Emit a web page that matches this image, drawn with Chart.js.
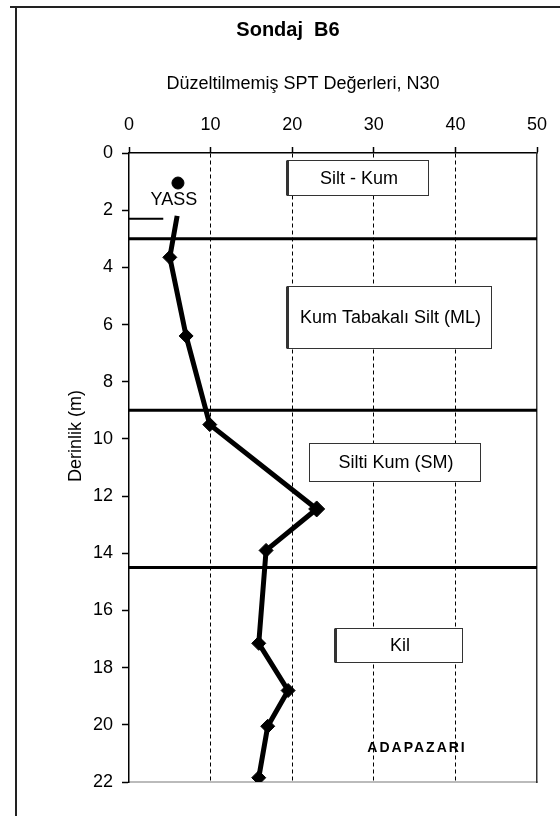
<!DOCTYPE html>
<html lang="tr">
<head>
<meta charset="utf-8">
<title>Sondaj B6</title>
<script src="https://cdn.jsdelivr.net/npm/chart.js@4/dist/chart.umd.min.js"></script>
<style>
  html, body { margin: 0; padding: 0; background: #fff; }
  canvas { display: block; }
</style>
</head>
<body>
<canvas id="c" width="560" height="816"></canvas>
<script>
// SPT readings, borehole B6
const depthM = [2.2, 3.65, 6.4, 9.5, 12.45, 13.9, 17.15, 18.8, 20.05, 21.85];
const n30    = [5.9, 5.0, 7.0, 9.9, 23.0, 16.8, 15.9, 19.5, 17.0, 15.9];
const topDepthM = [1.05];
const topN30    = [6.0];

// layer boundaries and groundwater level (m)
const layerBoundaries = [3, 9, 14.5];
const groundwaterDepth = 2.3;

// soil descriptions
const layerNames = ['Silt - Kum', 'Kum Tabakalı Silt (ML)', 'Silti Kum (SM)', 'Kil'];

const FONT = '"Liberation Sans", Arial, sans-serif';

// label boxes in axis units (N30 from/to, depth from/to)
const layerBoxes = [
  { x0: 19.4, x1: 36.6, y0: 0.25, y1: 1.47, thickLeft: true },
  { x0: 19.4, x1: 44.4, y0: 4.65, y1: 6.82, thickLeft: true },
  { x0: 22.0, x1: 43.0, y0: 10.14, y1: 11.47, thickLeft: false },
  { x0: 25.3, x1: 40.8, y0: 16.6, y1: 17.8, thickLeft: true }
];

const xMax = 50, yMax = 22;

const datasets = [];
layerBoundaries.forEach(d => {
  datasets.push({
    data: [{ x: 0, y: d }, { x: xMax, y: d }],
    borderColor: '#000', borderWidth: 3, pointRadius: 0, order: 3
  });
});
datasets.push({
  data: [{ x: 0, y: groundwaterDepth }, { x: 4.2, y: groundwaterDepth }],
  borderColor: '#000', borderWidth: 2, pointRadius: 0, order: 2
});
datasets.push({
  data: depthM.map((d, i) => ({ x: n30[i], y: d })),
  borderColor: '#000', borderWidth: 5, borderJoinStyle: 'round',
  pointStyle: 'rectRot',
  pointRadius: ctx => ctx.dataIndex === 0 ? 0 : (ctx.dataIndex === 4 ? 8 : 7),
  pointBackgroundColor: '#000', pointBorderColor: '#000', pointBorderWidth: 1,
  tension: 0, order: 1
});
datasets.push({
  data: topDepthM.map((d, i) => ({ x: topN30[i], y: d })),
  showLine: false, pointStyle: 'circle', pointRadius: 6,
  pointBackgroundColor: '#000', pointBorderColor: '#000', order: 1
});

// frame, label boxes and free text
const decorations = {
  id: 'decorations',
  beforeDraw(chart) {
    const ctx = chart.ctx;
    ctx.save();
    ctx.fillStyle = '#fff';
    ctx.fillRect(0, 0, chart.width, chart.height);
    ctx.strokeStyle = '#222';
    ctx.lineWidth = 2;
    ctx.beginPath();
    ctx.moveTo(10, 7); ctx.lineTo(chart.width, 7);
    ctx.moveTo(16, 7); ctx.lineTo(16, chart.height);
    ctx.stroke();
    ctx.restore();
  },
  beforeDatasetsDraw(chart) {
    const { ctx, chartArea: a, scales: { x, y } } = chart;
    ctx.save();
    layerBoxes.forEach((b, i) => {
      const l = Math.round(x.getPixelForValue(b.x0)) + 0.5;
      const r = Math.round(x.getPixelForValue(b.x1)) + 0.5;
      const t = Math.round(y.getPixelForValue(b.y0)) + 0.5;
      const bt = Math.round(y.getPixelForValue(b.y1)) + 0.5;
      ctx.fillStyle = '#fff';
      ctx.fillRect(l, t, r - l, bt - t);
      ctx.strokeStyle = '#333';
      ctx.lineWidth = 1;
      ctx.strokeRect(l, t, r - l, bt - t);
      if (b.thickLeft) {
        ctx.lineWidth = 3;
        ctx.beginPath(); ctx.moveTo(l, t); ctx.lineTo(l, bt); ctx.stroke();
      }
      ctx.fillStyle = '#000';
      ctx.font = '18px ' + FONT;
      ctx.textAlign = 'center';
      ctx.textBaseline = 'middle';
      ctx.fillText(layerNames[i], (l + r) / 2 + 1, (t + bt) / 2 + 1);
    });

    // groundwater label
    ctx.font = '18px ' + FONT;
    ctx.fillStyle = '#000';
    ctx.textAlign = 'center';
    ctx.textBaseline = 'middle';
    ctx.fillText('YASS', x.getPixelForValue(5.5), y.getPixelForValue(1.65));

    // site name
    ctx.font = 'bold 14px ' + FONT;
    ctx.letterSpacing = '2px';
    ctx.fillText('ADAPAZARI', x.getPixelForValue(35.3), y.getPixelForValue(20.8));
    ctx.letterSpacing = '0px';

    // axis titles
    ctx.font = '18px ' + FONT;
    ctx.fillText('Düzeltilmemiş SPT Değerleri, N30', a.left + 174, a.top - 69);
    ctx.translate(a.left - 53, a.top + 283);
    ctx.rotate(-Math.PI / 2);
    ctx.fillText('Derinlik (m)', 0, 0);
    ctx.restore();
  }
};

new Chart(document.getElementById('c'), {
  type: 'line',
  data: { datasets },
  plugins: [decorations],
  options: {
    responsive: false,
    animation: false,
    devicePixelRatio: 1,
    layout: { padding: { left: 16, right: 0, top: 0, bottom: 0 } },
    plugins: {
      legend: { display: false },
      tooltip: { enabled: false },
      title: {
        display: true,
        text: 'Sondaj  B6',
        color: '#000',
        font: { family: FONT, size: 20, weight: 'bold', lineHeight: 1.2 },
        padding: { top: 18, bottom: 0 }
      }
    },
    scales: {
      x: {
        type: 'linear', position: 'top', min: 0, max: xMax,
        afterFit: s => { s.height = 111; },
        ticks: { stepSize: 10, color: '#000', padding: 11,
                 font: { family: FONT, size: 18 } },
        grid: {
          color: c => (c.tick && (c.tick.value === 0 || c.tick.value === xMax)) ? 'rgba(0,0,0,0)' : '#000',
          lineWidth: 1, tickColor: '#000', tickLength: 6, tickWidth: 1.5
        },
        border: { display: true, color: '#000', width: 1.5, dash: [4, 3] }
      },
      xB: {
        type: 'linear', position: 'bottom', min: 0, max: xMax,
        afterFit: s => { s.height = 34; },
        ticks: { display: false },
        grid: { display: false },
        border: { display: true, color: '#bbb', width: 2 }
      },
      y: {
        type: 'linear', position: 'left', min: 0, max: yMax, reverse: true,
        afterFit: s => { s.width = 113; },
        ticks: { stepSize: 2, color: '#000', padding: 9,
                 font: { family: FONT, size: 18 } },
        grid: { drawOnChartArea: false, tickLength: 7, tickColor: '#000', tickWidth: 1.5 },
        border: { display: true, color: '#000', width: 1.5 }
      },
      yR: {
        type: 'linear', position: 'right', min: 0, max: yMax, reverse: true,
        afterFit: s => { s.width = 23; },
        ticks: { display: false },
        grid: { display: false },
        border: { display: true, color: '#333', width: 1.5 }
      }
    }
  }
});
</script>
</body>
</html>
